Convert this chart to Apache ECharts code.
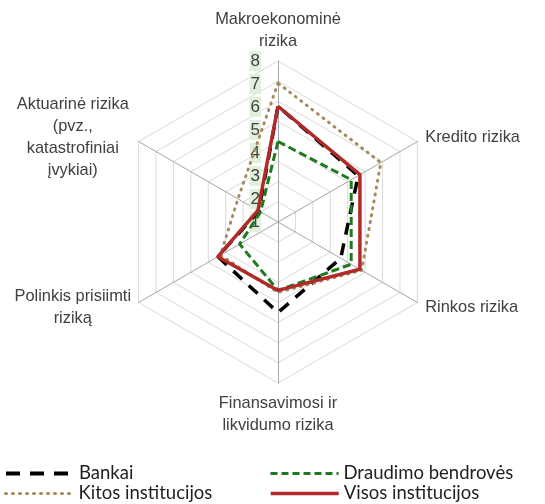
<!DOCTYPE html>
<html>
<head>
<meta charset="utf-8">
<script src="https://cdn.jsdelivr.net/npm/echarts@6/dist/echarts.min.js"></script>
<style>
  html, body { margin: 0; padding: 0; background: #fff; }
  #chart { width: 545px; height: 504px; }
</style>
</head>
<body>
<div id="chart"></div>
<script>
// indicators, counter-clockwise from the top (ECharts radar order)
const indicatorNames = [
  'Makroekonominė\nrizika',
  'Aktuarinė rizika\n(pvz.,\nkatastrofiniai\nįvykiai)',
  'Polinkis prisiimti\nriziką',
  'Finansavimosi ir\nlikvidumo rizika',
  'Rinkos rizika',
  'Kredito rizika'
];
const leftNames = [indicatorNames[1], indicatorNames[2]];
const scaleTicks = [1, 2, 3, 4, 5, 6, 7, 8];

const seriesNames = ['Bankai', 'Draudimo bendrovės', 'Kitos institucijos', 'Visos institucijos'];
const bankai   = [5.75, 1.1, 3.45, 4.5, 3.6, 4.6];
const draudimo = [4.0, 1.0, 2.2, 3.4, 4.2, 4.2];
const kitos    = [6.9, 2.3, 3.3, 3.5, 4.8, 5.9];
const visos    = [5.75, 1.15, 3.45, 3.4, 4.7, 4.7];

const colors = ['#000000', '#1f7a1f', '#a68a5b', '#b02a2a'];
const lineStyles = [
  { width: 3.5, type: [12, 9] },
  { width: 3, type: [8, 4] },
  { width: 3, type: [1, 6], cap: 'round' },
  { width: 3.5, type: 'solid' }
];
const legendLineStyles = [
  { width: 4, type: [14, 10] },
  { width: 3, type: [7, 4] },
  { width: 3, type: [1, 6], cap: 'round' },
  { width: 3.5, type: 'solid' }
];

const nameFont = "'Liberation Sans', Arial, sans-serif";
const center = [278, 222];
const radius = 161;

const chart = echarts.init(document.getElementById('chart'));

// legend: one component per entry so the two columns line up
function legendAt(i, left, top) {
  return {
    data: [{ name: seriesNames[i], lineStyle: legendLineStyles[i], itemStyle: { opacity: 0 } }],
    left: left,
    top: top,
    padding: 0,
    itemWidth: 68,
    itemHeight: 14,
    selectedMode: false,
    textStyle: { fontFamily: 'Lato', fontSize: 18.5, color: '#1f1f1f' }
  };
}

// empty polar line series only give the legend its line-style icons
const legendSeries = seriesNames.map((n, i) => ({
  type: 'line',
  name: n,
  coordinateSystem: 'polar',
  data: [],
  symbol: 'none',
  color: colors[i],
  lineStyle: Object.assign({ color: colors[i] }, lineStyles[i])
}));

const option = {
  animation: false,
  backgroundColor: '#fff',
  legend: [
    legendAt(0, 4, 464),
    legendAt(1, 269, 464),
    legendAt(2, 4, 484),
    legendAt(3, 269, 484)
  ],
  radar: {
    center: center,
    radius: radius,
    startAngle: 90,
    shape: 'polygon',
    splitNumber: 8,
    indicator: indicatorNames.map(n => ({ name: n, min: 0, max: 8 })),
    nameGap: 9,
    axisName: {
      color: '#404040',
      fontFamily: nameFont,
      fontSize: 16.4,
      lineHeight: 22,
      formatter: function (name) {
        if (leftNames.indexOf(name) >= 0) {
          return name.split('\n').map(l => '{c|' + l + '}').join('\n');
        }
        return name;
      },
      rich: {
        c: { width: 116, align: 'center', fontFamily: nameFont, fontSize: 16.4, lineHeight: 22, color: '#404040' }
      }
    },
    axisLine: { lineStyle: { color: '#a6a6a6', width: 1 } },
    splitLine: { lineStyle: { color: '#d9d9d9', width: 1 } },
    splitArea: { show: false },
    axisTick: { show: false },
    axisLabel: { show: false }
  },
  // polar carries the 1..8 scale labels on the top spoke
  polar: { center: center, radius: radius },
  angleAxis: {
    startAngle: 90,
    axisLine: { show: false },
    axisTick: { show: false },
    axisLabel: { show: false },
    splitLine: { show: false }
  },
  radiusAxis: {
    min: scaleTicks[0],
    max: scaleTicks[scaleTicks.length - 1],
    interval: 1,
    axisLine: { show: false },
    axisTick: { show: false },
    splitLine: { show: false },
    axisLabel: {
      margin: 17,
      color: '#404040',
      fontFamily: nameFont,
      fontSize: 17,
      backgroundColor: '#e2efda',
      padding: [2, 1, 1, 1]
    }
  },
  series: [{
    type: 'radar',
    symbol: 'none',
    data: [bankai, draudimo, kitos, visos].map((v, i) => ({
      name: seriesNames[i],
      value: v,
      lineStyle: Object.assign({ color: colors[i] }, lineStyles[i]),
      itemStyle: { color: colors[i] }
    }))
  }].concat(legendSeries)
};

chart.setOption(option);
</script>
</body>
</html>
